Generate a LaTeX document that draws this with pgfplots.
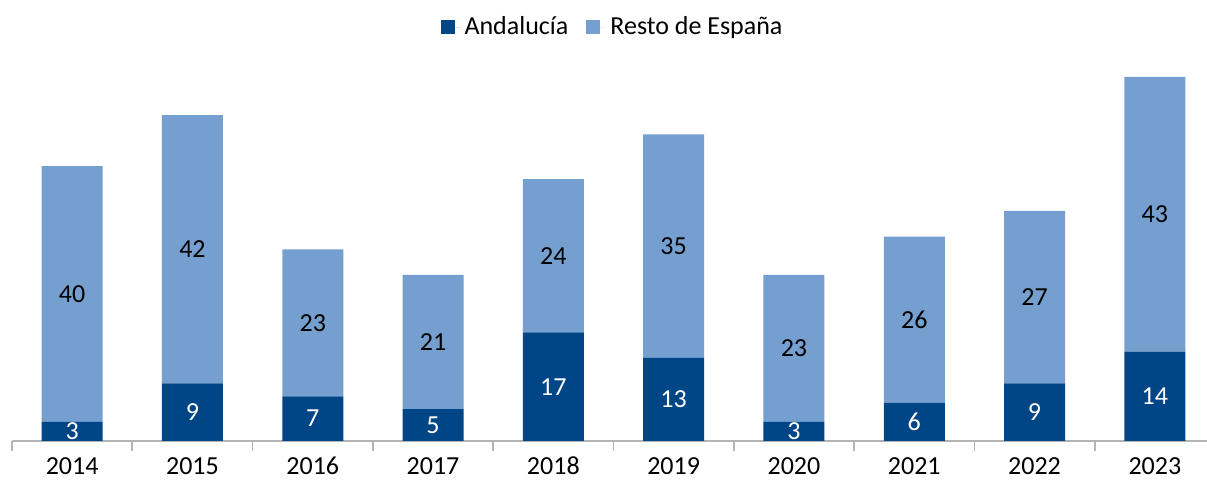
\documentclass[border=0pt]{standalone}
\usepackage{pgfplots}
\pgfplotsset{compat=1.18}
\usepackage{fontspec}
\setmainfont{Carlito}
\definecolor{andal}{RGB}{0,70,135}
\definecolor{resto}{RGB}{116,159,207}
\definecolor{axgray}{RGB}{180,180,180}
\begin{document}
\begin{tikzpicture}
\path[use as bounding box] (0,0) rectangle (603.5pt,241pt);
\begin{axis}[
  at={(6pt,20.5pt)}, anchor=south west,
  scale only axis, width=601.5pt, height=191.7pt,
  ybar stacked, bar width=30.5pt,
  xmin=-0.5, xmax=9.5, ymin=0, ymax=60,
  axis y line=none, axis x line*=bottom,
  x axis line style={draw=axgray, line width=0.8pt, -},
  xtick={0,...,9},
  xticklabels={2014,2015,2016,2017,2018,2019,2020,2021,2022,2023},
  major tick length=0pt,
  minor xtick={-0.5,0.5,...,9.5},
  minor tick length=5pt, tick align=outside,
  minor tick style={draw=axgray, line width=0.8pt},
  xticklabel style={font=\fontsize{13}{15}\selectfont, anchor=base, inner sep=0pt, yshift=-17pt},
  /pgf/number format/assume math mode=true,
  visualization depends on=rawy \as \rawy,
  nodes near coords={\pgfmathprintnumber{\rawy}},
  every node near coord/.append style={anchor=center, font=\fontsize{13}{15}\selectfont},
  legend style={at={(0.5,1)}, anchor=center, yshift=15.3pt, draw=none, legend columns=2, font=\fontsize{13}{15}\selectfont, /tikz/every even column/.append style={column sep=7pt}},
  legend image code/.code={\fill[#1] (0pt,-3.5pt) rectangle (7pt,3.5pt); \path (0pt,0pt) -- (10pt,0pt);},
  clip=false,
]
\addplot[fill=andal, draw=none, every node near coord/.append style={text=white}] coordinates {
(0,3) (1,9) (2,7) (3,5) (4,17) (5,13) (6,3) (7,6) (8,9) (9,14)};
\addplot[fill=resto, draw=none, every node near coord/.append style={text=black}] coordinates {
(0,40) (1,42) (2,23) (3,21) (4,24) (5,35) (6,23) (7,26) (8,27) (9,43)};
\legend{Andalucía, Resto de España}
\end{axis}
\end{tikzpicture}
\end{document}
